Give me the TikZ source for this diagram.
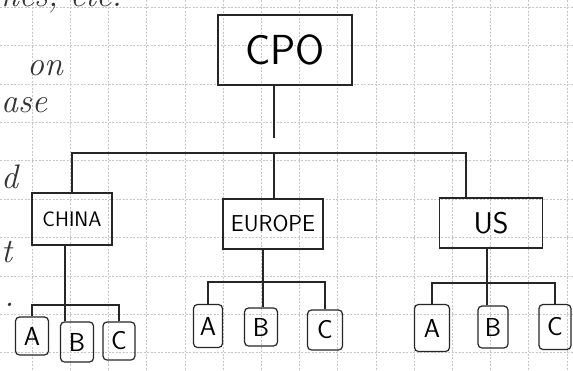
\documentclass[tikz,border=0pt]{standalone}
\usepackage{tikz}
\usetikzlibrary{positioning,calc}
\tikzset{
	gridline/.style={gray!45, line width=0.5pt, dash pattern=on 2pt off 1.5pt},
	link/.style={line width=1.2pt, black!85},
	region/.style={draw=black!85, line width=1.2pt, inner sep=2pt,
			font=\sffamily\fontsize{23}{23}\selectfont},
	office/.style={draw=black!85, line width=1.2pt, rounded corners=4pt, inner sep=1pt,
			font=\sffamily\fontsize{26}{26}\selectfont},
	scrawl/.style={inner sep=0pt, font=\itshape\fontsize{34}{34}\selectfont, black!80}
}

\begin{document}
\begin{tikzpicture}[x=1pt, y=-1pt]
			\useasboundingbox (0,0) rectangle (573,370);
			\clip (0,0) rectangle (573,370);

			% Draw the squared paper
			\fill[white] (0,0) rectangle (573,370);
			\foreach \i in {0,...,14}
				\draw[gridline] ({32+38.2*\i},0) -- ++(0,370);
			\foreach \j in {0,...,9}
				\draw[gridline] (0,{7+38.4*\j}) -- ++(573,0);

			% Draw the notes at the left margin
			\node[scrawl, anchor=base west] (noteA) at (0,6) {nes, etc.};
			\node[scrawl, anchor=base west] (noteB) at (27,75) {on};
			\node[scrawl, anchor=base west] (noteC) at (1,112) {ase};
			\node[scrawl, anchor=base west] (noteD) at (1,188) {d};
			\node[scrawl, anchor=base west] (noteE) at (1,262) {t};
			\node[scrawl, anchor=base west] (noteF) at (4,306) {.};

			% Draw the boxes
			\node[region, minimum width=134pt, minimum height=70pt,
				font=\sffamily\fontsize{42}{42}\selectfont] (cpo) at (285,50) {CPO};
			\node[region, minimum width=80pt, minimum height=52pt,
				font=\sffamily\fontsize{21}{21}\selectfont] (china) at (72,219) {CHINA};
			\node[region, minimum width=100pt, minimum height=50pt] (europe) at (273,224) {EUROPE};
			\node[region, minimum width=103pt, minimum height=50pt,
				font=\sffamily\fontsize{30}{30}\selectfont] (us) at (491,223) {US};

			\node[office, minimum width=33pt, minimum height=38pt] (chinaA) at (32,336) {A};
			\node[office, minimum width=33pt, minimum height=40pt] (chinaB) at (77,342) {B};
			\node[office, minimum width=32pt, minimum height=38pt] (chinaC) at (119,341) {C};

			\node[office, minimum width=29pt, minimum height=43pt] (europeA) at (208,326) {A};
			\node[office, minimum width=33pt, minimum height=38pt] (europeB) at (261,327) {B};
			\node[office, minimum width=35pt, minimum height=40pt] (europeC) at (325,330) {C};

			\node[office, minimum width=35pt, minimum height=47pt] (usA) at (432,328) {A};
			\node[office, minimum width=30pt, minimum height=42pt] (usB) at (493,327) {B};
			\node[office, minimum width=32pt, minimum height=45pt] (usC) at (555,327) {C};

			% Draw the top level lines
			\coordinate (hub) at (274,153);
			\coordinate (usTop) at (466,198);
			\draw[link] (hub |- cpo.south) -- ++(0,52);
			\draw[link] (china.north) |- (hub) -| (usTop);
			\draw[link] (hub) -- (hub |- europe.north);

			% Draw the lines down to the offices
			\coordinate (chinaBus) at (65,305);
			\draw[link] (china.south -| chinaBus) -- (chinaBus |- chinaB.north);
			\draw[link] (chinaA.north) |- (chinaBus) -| (chinaC.north);

			\coordinate (europeBus) at (263,282);
			\draw[link] (europe.south -| europeBus) -- (europeBus |- europeB.north);
			\draw[link] (europeA.north) |- (europeBus) -| (europeC.north);

			\coordinate (usBus) at (487,283);
			\draw[link] (us.south -| usBus) -- (usBus |- usB.north);
			\draw[link] (usA.north) |- (usBus) -| (usC.north);
		\end{tikzpicture}
\end{document}
